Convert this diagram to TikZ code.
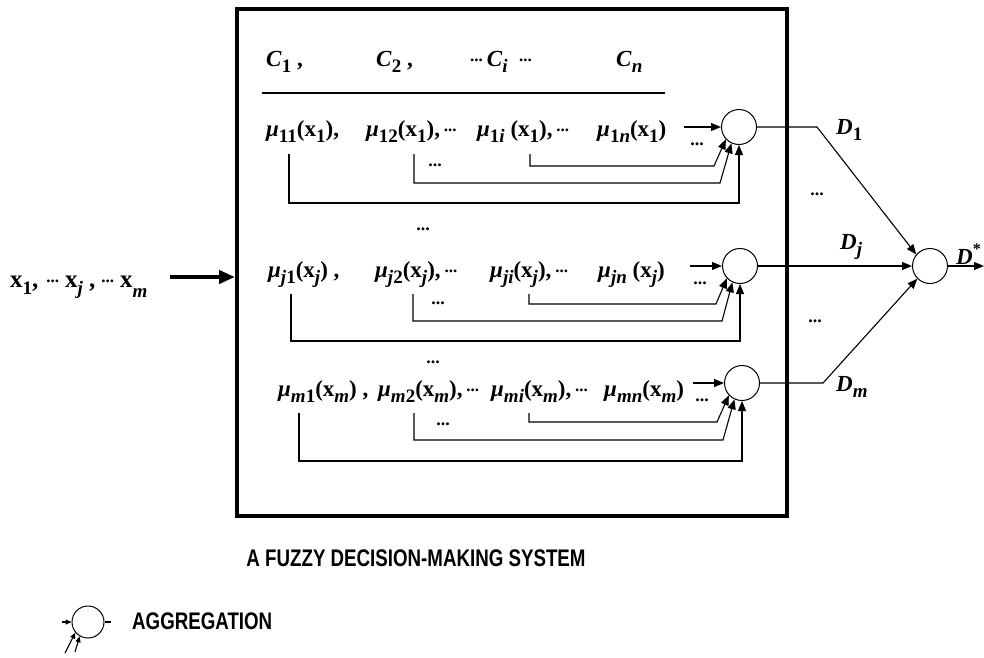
\documentclass[tikz,border=0pt]{standalone}
\usepackage{fontspec}
\setmainfont{Liberation Serif}
\newfontfamily\capsfont[FakeStretch=0.78]{Liberation Sans}
\usetikzlibrary{arrows.meta}

% lowered index, inline dots, membership symbol
\newcommand\sbs[1]{\raisebox{-0.3em}{\fontsize{19}{19}\selectfont #1}}
\newcommand\dd{\raisebox{0.2em}{\fontsize{17}{17}\selectfont\bfseries ...}}
\newcommand\mf{\textit{μ}}

\begin{document}
\begin{tikzpicture}[x=1pt,y=-1pt,
  lbl/.style={anchor=base west, inner sep=0pt, font=\fontsize{23}{27}\selectfont\bfseries},
  dts/.style={inner sep=0pt, font=\fontsize{18}{18}\selectfont\bfseries},
  agg/.style={circle, draw, line width=1pt, minimum size=35pt, inner sep=0pt},
  wire/.style={line width=1.1pt},
  arr/.style={wire, -{Triangle[length=10pt,width=8pt]}},
  sarr/.style={wire, -{Triangle[length=6pt,width=5pt]}},
  caps/.style={inner sep=0pt, font=\capsfont\bfseries\fontsize{24}{28}\selectfont}]
\useasboundingbox (0,0) rectangle (984,657);

% system frame
\node[draw, line width=4pt, minimum width=550pt, minimum height=507pt, inner sep=0pt]
  (sys) at (512,262.5) {};

% criteria header
\node[lbl] (h1) at (266,66) {\textit{C}\sbs{1} ,};
\node[lbl] (h2) at (376,66) {\textit{C}\sbs{2} ,};
\node[lbl] (h3) at (470,66) {\dd\,\textit{C}\sbs{\textit{i}} \ \dd};
\node[lbl] (h4) at (616,66) {\textit{C}\sbs{\textit{n}}};
\coordinate (hl) at (262,93);
\coordinate (hr) at (665,93);
\draw[wire] (hl) -- (hr);

% row 1
\node[lbl] (t11) at (266,136) {\mf\sbs{11}(x\sbs{1}),};
\node[lbl] (t12) at (366,136) {\mf\sbs{12}(x\sbs{1}),\,\dd};
\node[lbl] (t1i) at (477,136) {\mf\sbs{1\textit{i}} (x\sbs{1}),\,\dd};
\node[lbl] (t1n) at (597,136) {\mf\sbs{1\textit{n}}(x\sbs{1})};
\node[dts] (d1a) at (435,165) {...};
\node[dts] (d1b) at (697,144) {...};

% row j
\node[dts] (d2t) at (423,229) {...};
\node[lbl] (t21) at (268,277) {\mf\sbs{\textit{j}1}(x\sbs{\textit{j}}) ,};
\node[lbl] (t22) at (375,277) {\mf\sbs{\textit{j}2}(x\sbs{\textit{j}}),\,\dd};
\node[lbl] (t2i) at (490,277) {\mf\sbs{\textit{ji}}(x\sbs{\textit{j}}),\,\dd};
\node[lbl] (t2n) at (598,277) {\mf\sbs{\textit{jn}} (x\sbs{\textit{j}})};
\node[dts] (d2a) at (438,303) {...};
\node[dts] (d2b) at (700,283) {...};

% row m
\node[dts] (d3t) at (433,362) {...};
\node[lbl] (t31) at (278,396) {\mf\sbs{\textit{m}1}(x\sbs{\textit{m}}) ,};
\node[lbl] (t32) at (378,396) {\mf\sbs{\textit{m}2}(x\sbs{\textit{m}}),\,\dd};
\node[lbl] (t3i) at (491,396) {\mf\sbs{\textit{mi}}(x\sbs{\textit{m}}),\,\dd};
\node[lbl] (t3n) at (604,396) {\mf\sbs{\textit{mn}}(x\sbs{\textit{m}})};
\node[dts] (d3a) at (443,424) {...};
\node[dts] (d3b) at (702,400) {...};

% aggregation nodes
\node[agg] (c1) at (739,127) {};
\node[agg] (c2) at (740,266) {};
\node[agg] (c3) at (742,383) {};
\node[agg] (cd) at (930,266) {};

% inputs of the aggregation nodes
\coordinate (in1) at (684,127);
\coordinate (in2) at (690,266);
\coordinate (in3) at (693,383);
\draw[arr] (in1) -- (c1.west);
\draw[arr] (in2) -- (c2.west);
\draw[arr] (in3) -- (c3.west);

\coordinate (s1a) at (289,154);
\coordinate (s1b) at (414,154);
\coordinate (s1c) at (530,154);
\draw[arr] (s1a) -- (289,203) -| (c1.south);
\draw[arr] (s1b) |- (720,183) -- (c1.245);
\draw[arr] (s1c) |- (714,166) -- (c1.223);

\coordinate (s2a) at (291,294);
\coordinate (s2b) at (413,294);
\coordinate (s2c) at (529,294);
\draw[arr] (s2a) -- (291,341) -| (c2.south);
\draw[arr] (s2b) |- (722,321) -- (c2.245);
\draw[arr] (s2c) |- (716,304) -- (c2.223);

\coordinate (s3a) at (299,413);
\coordinate (s3b) at (414,413);
\coordinate (s3c) at (529,413);
\draw[arr] (s3a) -- (299,461) -| (c3.south);
\draw[arr] (s3b) |- (723,440) -- (c3.245);
\draw[arr] (s3c) |- (717,422) -- (c3.223);

% decisions into the final aggregation
\draw[arr] (c1.east) -- (817,127) -- (cd.140);
\draw[arr] (c2.east) -- (cd.west);
\draw[arr] (c3.east) -- (823,383) -- (cd.225);
\coordinate (out) at (984,266);
\draw[arr] (cd.east) -- (out);

\node[lbl] (D1) at (836,134) {\textit{D}\sbs{1}};
\node[lbl] (Dj) at (840,249) {\textit{D}\sbs{\textit{j}}};
\node[lbl] (Dm) at (836,391) {\textit{D}\sbs{\textit{m}}};
\node[lbl] (Ds) at (956,264) {\textit{D}\textsuperscript{*}};
\node[dts] (rd1) at (817,194) {...};
\node[dts] (rd2) at (815,321) {...};

% system input
\node[lbl, font=\fontsize{25}{29}\selectfont\bfseries] (xs) at (10,287)
  {x\sbs{1},\hspace{8pt}\dd\hspace{6pt}x\sbs{\textit{j}}\hspace{6pt},\hspace{6pt}\dd\hspace{6pt}x\raisebox{-0.1em}{\sbs{\textit{m}}}};
\coordinate (xin) at (170,277);
\draw[line width=4pt, -{Triangle[length=16pt,width=13pt]}] (xin) -- (sys.west |- xin);

% caption
\node[caps] (title) at (416,558) {A FUZZY DECISION-MAKING SYSTEM};

% legend
\node[agg, minimum size=32pt] (lc) at (88,622) {};
\coordinate (lin) at (62,622);
\draw[sarr] (lin) -- (lc.west);
\draw[wire] (lc.east) -- ++(6,0);
\coordinate (lg1) at (65,653);
\coordinate (lg2) at (75,652);
\draw[sarr] (lg1) -- (lc.220);
\draw[sarr] (lg2) -- (lc.240);
\node[caps, anchor=west] (aggtxt) at (132,621) {AGGREGATION};
\end{tikzpicture}
\end{document}
